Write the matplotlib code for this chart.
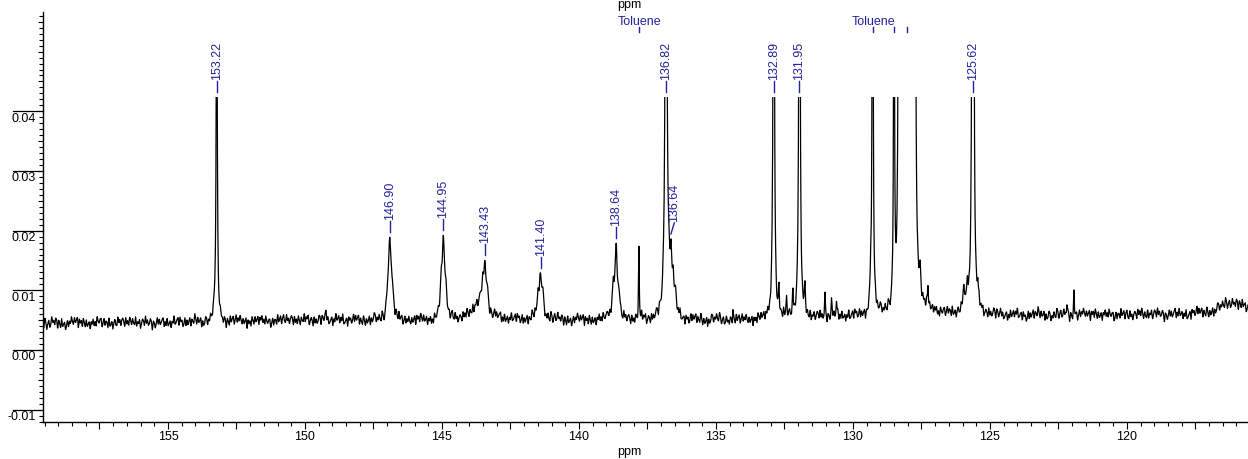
import numpy as np
import matplotlib.pyplot as plt
from matplotlib.patches import Rectangle
from matplotlib.ticker import MultipleLocator, FuncFormatter
from matplotlib.transforms import blended_transform_factory, offset_copy

plt.rcParams['font.family'] = ['Liberation Sans', 'DejaVu Sans']

# --- data -----------------------------------------------------------------
# line list: position (ppm), height above baseline, half width (ppm)
peak_ppm = [153.22, 149.25,
            146.98, 146.90, 146.82,
            145.03, 144.95, 144.87,
            143.62, 143.51, 143.43, 143.35,
            141.48, 141.40, 141.32, 141.40,
            138.94, 138.74, 138.64, 138.54, 137.81,
            136.82, 136.72, 136.64, 136.56, 136.48,
            134.38, 132.89, 132.70, 132.42, 132.19, 131.95, 131.75,
            131.02, 130.78, 130.60,
            129.35, 129.28, 128.50, 128.33, 128.22, 128.10, 127.97, 127.85, 127.74,
            127.55, 127.26,
            125.95, 125.82, 125.64, 125.60, 125.44,
            122.19, 121.93, 116.13]
peak_height = [0.060, 0.0010,
               0.0041, 0.0116, 0.0041,
               0.0040, 0.0113, 0.0040,
               0.0030, 0.0025, 0.0062, 0.0025,
               0.0025, 0.0058, 0.0025, 0.0008,
               0.0015, 0.0055, 0.0118, 0.0045, 0.0118,
               0.100, 0.0030, 0.0085, 0.0035, 0.0030,
               0.0020, 0.100, 0.0040, 0.0025, 0.0035, 0.100, 0.0040,
               0.0035, 0.0025, 0.0020,
               0.0040, 0.100, 0.100, 0.100, 0.100, 0.100, 0.100, 0.100, 0.100,
               0.0040, 0.0035,
               0.0040, 0.0040, 0.080, 0.080, 0.0030,
               0.0020, 0.0040, 0.0022]
peak_hw = [0.025, 0.05,
           0.05, 0.05, 0.05,
           0.05, 0.05, 0.05,
           0.30, 0.05, 0.05, 0.05,
           0.05, 0.05, 0.05, 0.20,
           0.02, 0.04, 0.04, 0.04, 0.015,
           0.035, 0.04, 0.045, 0.04, 0.04,
           0.015, 0.025, 0.02, 0.02, 0.02, 0.025, 0.02,
           0.015, 0.015, 0.015,
           0.02, 0.02, 0.015, 0.02, 0.03, 0.03, 0.03, 0.03, 0.03,
           0.03, 0.02,
           0.03, 0.03, 0.025, 0.025, 0.02,
           0.015, 0.015, 0.50]

baseline_ppm = [115.5, 120.0, 124.0, 127.0, 131.0, 134.0, 140.0, 146.0, 150.0, 155.0, 159.7]
baseline_val = [0.0059, 0.0059, 0.0058, 0.0061, 0.0055, 0.0050, 0.0050, 0.0049, 0.0050, 0.0046, 0.0045]

# fine ripple (units of 1e-4) and slow wander (units of 1e-4)
noise_e4 = [2, -3, 4, -1, -5, 3, 1, -2, 5, -4, 0, 3, -6, 2, 4, -3, 1, -1, 5, -2,
            -4, 3, 0, -5, 2, 6, -3, -1, 4, -2, 1, -4, 3, 5, -1, -3, 2, -5, 4, 0,
            -2, 3, -4, 1, 6, -3, -1, 2, -5, 4, 1, -2, 3, -3, 5, -1, -4, 2, 0, 4,
            -5, 3, 1, -2, -3, 6, -1, 2, -4, 3, 0, -2, 5, -3, 1, -5, 4, 2, -1, -3,
            3, -2, 5, 0, -4, 1, 3, -6, 2, 4, -1, -3, 2, -2, 5, -4, 1, 3, -1, -5,
            4, 0, 2, -3, 6, -2, -1, 3, -4, 1, 5, -3, 2, -2, 4, -5, 0, 3, 1, -4,
            2, -1, 5, -3, -2, 4, 1, -5, 3, 0, -2, 6, -4, 1, 2, -3, 4, -1, -5, 3,
            2, -2, 0, 5, -4, 1, -3, 4, -1, 2, -5, 3, 0, -2, 4, -3, 1, 5, -4, 2,
            -1, 3, -6, 4, 1, -2, 3, -3, 0, 5, -1]
wander_e4 = [0, 2, 3, 1, -2, -3, -1, 1, 3, 2, -1, -3, -2, 0, 2, 4, 1, -2, -4, -1,
             1, 3, 0, -2, -3, 1, 3, 2, -1, -2, 0, 3, 2, -3, -2, 1, 2, -1, -3, 0,
             2, 1, -2, -1, 3]

labelled_ppm = [153.22, 146.90, 144.95, 143.43, 141.40, 138.64, 136.82,
                136.64, 132.89, 131.95, 125.62]
toluene_groups = [[137.81], [129.26, 128.49, 128.02]]
toluene_text_ppm = [137.79, 129.23]

# --- build trace ------------------------------------------------------------
ppm = np.arange(115.5, 159.7, 0.01)
spec = np.interp(ppm, baseline_ppm, baseline_val)
noise_ppm = np.arange(115.5, 159.75, 0.036)
spec = spec + np.interp(ppm, noise_ppm, np.resize(noise_e4, noise_ppm.size) * 1.8e-4)
wander_ppm = np.arange(115.5, 159.75, 0.13)
spec = spec + np.interp(ppm, wander_ppm, np.resize(wander_e4, wander_ppm.size) * 1.0e-4)
for p, h, w in zip(peak_ppm, peak_height, peak_hw):
    spec = spec + h / (1 + ((ppm - p) / w) ** 2)
clip_level = 0.0424
shown = np.minimum(spec, clip_level)

# --- figure -----------------------------------------------------------------
W, H = 1248, 460
fig = plt.figure(figsize=(W / 100, H / 100), dpi=100)
ax_l, ax_b, ax_w, ax_h = 43, 37.3, 1205, 409.7
ax = fig.add_axes([ax_l / W, ax_b / H, ax_w / W, ax_h / H])
x0, x1, y0, y1 = 159.56, 115.58, -0.01202, 0.05664
ax.set_xlim(x0, x1)
ax.set_ylim(y0, y1)
line, = ax.plot(ppm, spec, color='black', lw=0.9)
line.set_clip_path(Rectangle((x1, y0), x0 - x1, clip_level - y0, transform=ax.transData))

for s in ('top', 'right'):
    ax.spines[s].set_visible(False)
for s in ('left', 'bottom'):
    ax.spines[s].set_linewidth(1.0)

ax.xaxis.set_major_locator(MultipleLocator(2.5))
ax.xaxis.set_minor_locator(MultipleLocator(0.5))
ax.xaxis.set_major_formatter(FuncFormatter(
    lambda v, pos: f"{v:.0f}" if abs(v / 5 - round(v / 5)) < 1e-6 else ""))
ax.tick_params(axis='x', which='major', length=4.7, width=0.8, labelsize=9, pad=1)
ax.tick_params(axis='x', which='minor', length=2.6, width=0.8)

ax.yaxis.set_major_locator(MultipleLocator(0.005))
ax.yaxis.set_minor_locator(MultipleLocator(0.001))
ax.tick_params(axis='y', which='major', length=3.6, width=0.8, labelleft=False)
ax.tick_params(axis='y', which='minor', length=2.6, width=0.8)

trans = blended_transform_factory(ax.transAxes, ax.transData)
lab_trans = offset_copy(trans, fig=fig, y=-6.5, units='dots')
for v in [-0.01, 0.00, 0.01, 0.02, 0.03, 0.04]:
    ax.plot([-30 / ax_w, 0], [v, v], transform=trans, color='black', lw=0.9,
            clip_on=False)
    ax.text(-7 / ax_w, v, f"{v:.2f}", transform=lab_trans, ha='right', va='center',
            fontsize=9)

# peak labels
blue = '#23239b'
px = (y1 - y0) / ax_h
for p in labelled_ppm:
    near = np.abs(ppm - p) <= 0.03
    top = shown[near].max()
    tx = p - 0.12 if p == 136.64 else p
    ya = top + 5 * px
    yb = ya + 11 * px
    ax.plot([p, tx], [ya, yb], color=blue, lw=1)
    ax.text(tx, yb + 2 * px, f"{p:.2f}", rotation=90, ha='center', va='bottom',
            color=blue, fontsize=9)

for group, tp in zip(toluene_groups, toluene_text_ppm):
    for t in group:
        ax.plot([t, t], [0.0533, 0.0541], color=blue, lw=1)
    ax.text(tp, 0.0551, 'Toluene', ha='center', va='center', color=blue, fontsize=9)

fig.text(629 / W, 1 - 5 / H, 'ppm', ha='center', va='center', fontsize=9)
fig.text(629 / W, 1 - 452 / H, 'ppm', ha='center', va='center', fontsize=9)

fig.savefig('out.png', dpi=100)
